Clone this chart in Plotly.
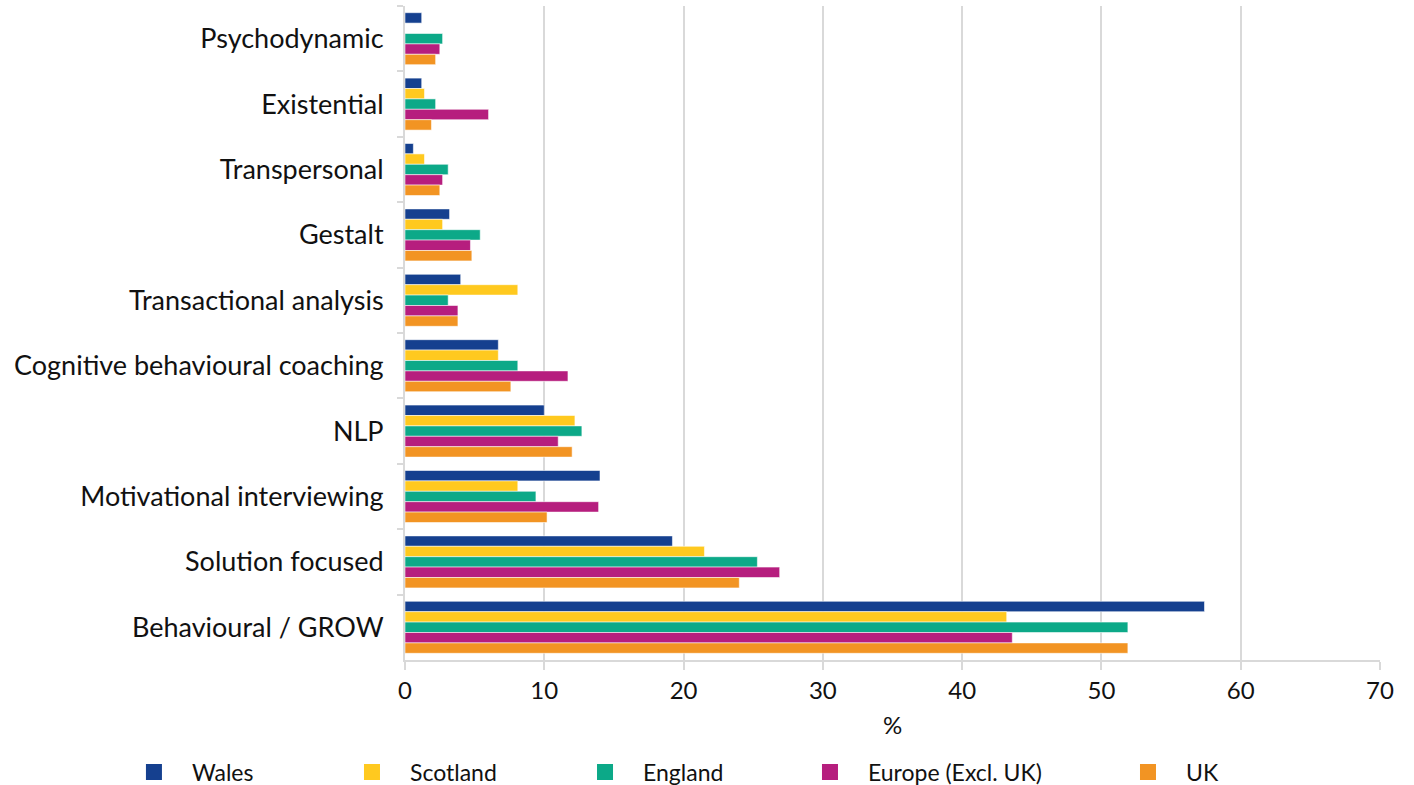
import plotly.graph_objects as go

categories = ["Psychodynamic", "Existential", "Transpersonal", "Gestalt",
              "Transactional analysis", "Cognitive behavioural coaching", "NLP",
              "Motivational interviewing", "Solution focused", "Behavioural / GROW"]

wales = [1.2, 1.2, 0.6, 3.2, 4.0, 6.7, 10.0, 14.0, 19.2, 57.4]
scotland = [0.0, 1.4, 1.4, 2.7, 8.1, 6.7, 12.2, 8.1, 21.5, 43.2]
england = [2.7, 2.2, 3.1, 5.4, 3.1, 8.1, 12.7, 9.4, 25.3, 51.9]
europe = [2.5, 6.0, 2.7, 4.7, 3.8, 11.7, 11.0, 13.9, 26.9, 43.6]
uk = [2.2, 1.9, 2.5, 4.8, 3.8, 7.6, 12.0, 10.2, 24.0, 51.9]

series_names = ["Wales", "Scotland", "England", "Europe (Excl. UK)", "UK"]
series_values = [wales, scotland, england, europe, uk]
colors = ["#15408f", "#ffc91f", "#0ca988", "#b61e7e", "#f29423"]
legend_x = [0.0820, 0.2362, 0.4010, 0.5601, 0.7850]

FONT = "Lato"

fig = go.Figure()
for i, (name, vals, col) in enumerate(zip(series_names, series_values, colors)):
    fig.add_trace(go.Bar(
        y=categories, x=vals, name=name, orientation="h",
        marker=dict(color=col, line=dict(color="rgba(255,255,255,0.55)", width=1)),
        showlegend=False, hoverinfo="x+y+name"))

for i, (name, col) in enumerate(zip(series_names, colors)):
    lg = "legend" if i == 0 else f"legend{i+1}"
    fig.add_trace(go.Scatter(
        x=[None], y=[None], mode="markers", name=name,
        marker=dict(symbol="square", size=18, color=col),
        legend=lg, showlegend=True))

legend_common = dict(orientation="h", yanchor="middle", xanchor="left",
                     xref="container", yref="container",
                     y=0.0166, font=dict(family=FONT, size=23, color="#111111"),
                     itemwidth=66, bgcolor="rgba(0,0,0,0)")

layout_legends = {}
for i in range(5):
    key = "legend" if i == 0 else f"legend{i+1}"
    layout_legends[key] = dict(legend_common, x=legend_x[i])

fig.update_layout(
    barmode="group", bargap=0.205, bargroupgap=0,
    width=1414, height=785,
    margin=dict(l=405, r=34, t=6, b=125),
    paper_bgcolor="white", plot_bgcolor="white",
    font=dict(family=FONT, size=24, color="#111111"),
    xaxis=dict(range=[0, 70], dtick=10, showgrid=True, gridcolor="#d9d9d9", gridwidth=2,
               showline=True, linecolor="#d9d9d9", linewidth=2,
               ticks="outside", ticklen=8, tickcolor="#d9d9d9", tickwidth=2,
               tickfont=dict(family=FONT, size=24, color="#111111"),
               title=dict(text="%", font=dict(family=FONT, size=24, color="#111111"), standoff=14),
               zeroline=False, automargin=False),
    yaxis=dict(categoryorder="array", categoryarray=categories, autorange="reversed",
               showline=True, linecolor="#d9d9d9", linewidth=2,
               ticks="outside", tickson="boundaries", ticklen=6, tickcolor="#d9d9d9", tickwidth=2,
               tickfont=dict(family=FONT, size=27, color="#111111"),
               ticklabelstandoff=14, showgrid=False, automargin=False),
    **layout_legends,
)

fig.write_html("out.html", config={"displayModeBar": False})

# remove the browser's default page margin so the figure sits at the window origin
with open("out.html", "r", encoding="utf-8") as f:
    html = f.read()
html = html.replace("<head>", "<head><style>html,body{margin:0;padding:0;overflow:hidden;}</style>", 1)
with open("out.html", "w", encoding="utf-8") as f:
    f.write(html)
